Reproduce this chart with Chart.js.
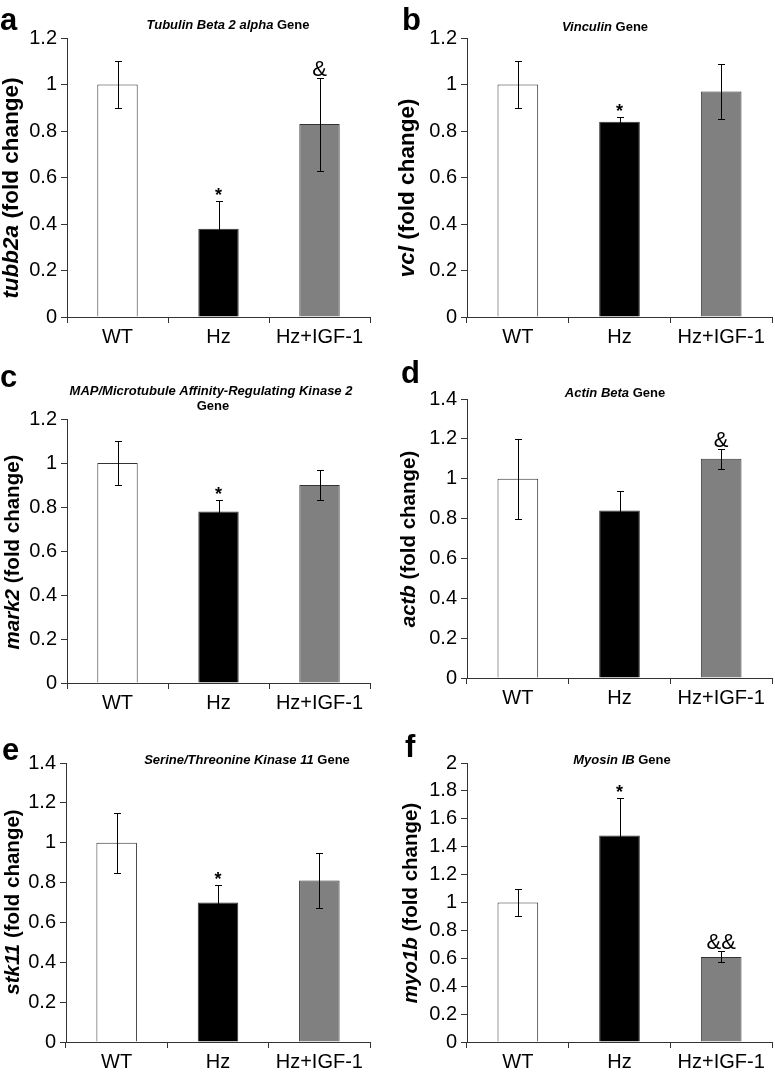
<!DOCTYPE html>
<html><head><meta charset="utf-8">
<script src="https://cdn.jsdelivr.net/npm/chart.js@4.4.0/dist/chart.umd.min.js"></script>
<style>
html,body{margin:0;padding:0;background:#fff}
body{width:775px;height:1074px;position:relative;overflow:hidden}
.panel{position:absolute}
.panel canvas{display:block}
</style></head><body>
<div class="panel" style="left:0px;top:0px;width:385px;height:350px"><canvas id="pa" width="385" height="350" style="width:385px;height:350px"></canvas></div>
<div class="panel" style="left:385px;top:0px;width:390px;height:350px"><canvas id="pb" width="390" height="350" style="width:390px;height:350px"></canvas></div>
<div class="panel" style="left:0px;top:350px;width:385px;height:360px"><canvas id="pc" width="385" height="360" style="width:385px;height:360px"></canvas></div>
<div class="panel" style="left:385px;top:350px;width:390px;height:360px"><canvas id="pd" width="390" height="360" style="width:390px;height:360px"></canvas></div>
<div class="panel" style="left:0px;top:710px;width:385px;height:364px"><canvas id="pe" width="385" height="364" style="width:385px;height:364px"></canvas></div>
<div class="panel" style="left:385px;top:710px;width:390px;height:364px"><canvas id="pf" width="390" height="364" style="width:390px;height:364px"></canvas></div>
<script>
// ---- data ----
const categories = ['WT', 'Hz', 'Hz+IGF-1'];

const tubb2aValues = [1.00, 0.38, 0.83];
const tubb2aErrors = [0.10, 0.12, 0.20];
const tubb2aMarks  = ['', '*', '&'];

const vclValues = [1.00, 0.84, 0.97];
const vclErrors = [0.10, 0.02, 0.12];
const vclMarks  = ['', '*', ''];

const mark2Values = [1.00, 0.78, 0.90];
const mark2Errors = [0.10, 0.05, 0.07];
const mark2Marks  = ['', '*', ''];

const actbValues = [1.00, 0.84, 1.10];
const actbErrors = [0.20, 0.10, 0.05];
const actbMarks  = ['', '', '&'];

const stk11Values = [1.00, 0.70, 0.81];
const stk11Errors = [0.15, 0.09, 0.14];
const stk11Marks  = ['', '*', ''];

const myo1bValues = [1.00, 1.48, 0.61];
const myo1bErrors = [0.10, 0.27, 0.04];
const myo1bMarks  = ['', '*', '&&'];

const yMaxA = 1.2, yMaxB = 1.2, yMaxC = 1.2, yMaxD = 1.4, yMaxE = 1.4, yMaxF = 2.0;
const yStep = 0.2;

// ---- styling / layout ----
const FONT = '"Liberation Sans", Arial, Helvetica, sans-serif';
const barColors = ['#ffffff', '#000000', '#808080'];
const axisColor = '#333333';

function runsWidth(ctx, runs, size) {
  let w = 0;
  runs.forEach(r => { ctx.font = (r.italic ? 'italic ' : '') + 'bold ' + size + 'px ' + FONT; w += ctx.measureText(r.text).width; });
  return w;
}
function drawRuns(ctx, runs, size, cx, y) {
  const w = runsWidth(ctx, runs, size);
  let x = cx - w / 2;
  ctx.textAlign = 'left';
  runs.forEach(r => {
    ctx.font = (r.italic ? 'italic ' : '') + 'bold ' + size + 'px ' + FONT;
    ctx.fillText(r.text, x, y);
    x += ctx.measureText(r.text).width;
  });
}

const decor = {
  id: 'decor',
  afterDatasetsDraw(chart) {
    const o = chart.options.plugins.decor;
    const ctx = chart.ctx;
    const meta = chart.getDatasetMeta(0);
    const ys = chart.scales.y;
    ctx.save();
    ctx.strokeStyle = '#000';
    ctx.lineWidth = 1;
    meta.data.forEach((bar, i) => {
      const v = o.values[i], e = o.errors[i];
      const x = Math.round(bar.x) + 0.5;
      const yt = Math.round(ys.getPixelForValue(v + e)) + 0.5;
      const yb = Math.round(ys.getPixelForValue(v - e)) + 0.5;
      ctx.beginPath();
      ctx.moveTo(x, yt); ctx.lineTo(x, yb);
      ctx.moveTo(x - 3.5, yt); ctx.lineTo(x + 3.5, yt);
      ctx.moveTo(x - 3.5, yb); ctx.lineTo(x + 3.5, yb);
      ctx.stroke();
      const m = o.marks[i];
      if (m) {
        ctx.fillStyle = '#000';
        ctx.textAlign = 'center';
        ctx.textBaseline = 'alphabetic';
        if (m === '*') {
          ctx.font = 'bold 18px ' + FONT;
          ctx.fillText(m, bar.x, yt - 1);
        } else {
          ctx.font = '22px ' + FONT;
          ctx.fillText(m, bar.x, yt - 3);
        }
      }
    });
    ctx.restore();
  },
  afterDraw(chart) {
    const o = chart.options.plugins.decor;
    const ctx = chart.ctx;
    ctx.save();
    ctx.fillStyle = '#000';
    ctx.textBaseline = 'alphabetic';
    o.title.forEach(line => drawRuns(ctx, line.runs, 13, line.x, line.y));
    ctx.translate(o.yTitle.x, o.yTitle.y);
    ctx.rotate(-Math.PI / 2);
    ctx.textBaseline = 'middle';
    drawRuns(ctx, o.yTitle.runs, o.yTitle.size, 0, 0);
    ctx.setTransform(1, 0, 0, 1, 0, 0);
    ctx.textBaseline = 'alphabetic';
    ctx.textAlign = 'left';
    ctx.font = 'bold 31px ' + FONT;
    ctx.fillText(o.letter.text, o.letter.x, o.letter.y);
    ctx.restore();
  }
};

function makeChart(id, p) {
  const cv = document.getElementById(id);
  const W = cv.width, H = cv.height;
  const a = p.area;
  return new Chart(cv, {
    type: 'bar',
    data: {
      labels: categories,
      datasets: [{
        data: p.values,
        backgroundColor: barColors,
        borderColor: axisColor,
        borderWidth: 1,
        borderSkipped: 'bottom',
        categoryPercentage: 1.0,
        barPercentage: 0.4
      }]
    },
    plugins: [decor],
    options: {
      responsive: false,
      animation: false,
      devicePixelRatio: 1,
      layout: { padding: { left: 0, top: a.t, right: W - a.r, bottom: 0 } },
      plugins: {
        legend: { display: false },
        tooltip: { enabled: false },
        decor: { values: p.values, errors: p.errors, marks: p.marks, title: p.title, yTitle: p.yTitle, letter: p.letter }
      },
      scales: {
        x: {
          grid: { display: true, drawOnChartArea: false, drawTicks: true, tickLength: 6, color: axisColor, lineWidth: 1, offset: true },
          border: { display: true, color: axisColor, width: 1 },
          ticks: { color: '#000', font: { family: FONT, size: 20 }, padding: 2, maxRotation: 0, autoSkip: false },
          afterFit: s => { s.height = H - a.b; }
        },
        y: {
          min: 0, max: p.yMax,
          grid: { display: true, drawOnChartArea: false, drawTicks: true, tickLength: 6, color: axisColor, lineWidth: 1 },
          border: { display: true, color: axisColor, width: 1 },
          ticks: {
            stepSize: yStep, color: '#000', font: { family: FONT, size: 20 }, padding: 4,
            callback: v => String(parseFloat(Number(v).toFixed(2)))
          },
          afterFit: s => { s.width = a.l; }
        }
      }
    }
  });
}

makeChart('pa', {
  values: tubb2aValues, errors: tubb2aErrors, marks: tubb2aMarks, yMax: yMaxA,
  area: { l: 67, t: 38, r: 370, b: 317 },
  title: [{ runs: [{ text: 'Tubulin Beta 2 alpha', italic: true }, { text: ' Gene' }], x: 228, y: 29 }],
  yTitle: { runs: [{ text: 'tubb2a', italic: true }, { text: ' (fold change)' }], x: 12, y: 188, size: 22.5 },
  letter: { text: 'a', x: 0, y: 30 }
});
makeChart('pb', {
  values: vclValues, errors: vclErrors, marks: vclMarks, yMax: yMaxB,
  area: { l: 82, t: 38, r: 387, b: 317 },
  title: [{ runs: [{ text: 'Vinculin', italic: true }, { text: ' Gene' }], x: 220, y: 31 }],
  yTitle: { runs: [{ text: 'vcl', italic: true }, { text: ' (fold change)' }], x: 23, y: 188, size: 22.5 },
  letter: { text: 'b', x: 17, y: 30 }
});
makeChart('pc', {
  values: mark2Values, errors: mark2Errors, marks: mark2Marks, yMax: yMaxC,
  area: { l: 67, t: 69, r: 370, b: 333 },
  title: [
    { runs: [{ text: 'MAP/Microtubule Affinity-Regulating Kinase 2', italic: true }], x: 211, y: 45 },
    { runs: [{ text: 'Gene' }], x: 213, y: 60 }
  ],
  yTitle: { runs: [{ text: 'mark2', italic: true }, { text: ' (fold change)' }], x: 13, y: 202, size: 20.5 },
  letter: { text: 'c', x: 0, y: 37 }
});
makeChart('pd', {
  values: actbValues, errors: actbErrors, marks: actbMarks, yMax: yMaxD,
  area: { l: 82, t: 49, r: 387, b: 328 },
  title: [{ runs: [{ text: 'Actin Beta', italic: true }, { text: ' Gene' }], x: 230, y: 47 }],
  yTitle: { runs: [{ text: 'actb', italic: true }, { text: ' (fold change)' }], x: 24, y: 189, size: 20.5 },
  letter: { text: 'd', x: 16, y: 33 }
});
makeChart('pe', {
  values: stk11Values, errors: stk11Errors, marks: stk11Marks, yMax: yMaxE,
  area: { l: 66, t: 53, r: 370, b: 332 },
  title: [{ runs: [{ text: 'Serine/Threonine Kinase 11', italic: true }, { text: ' Gene' }], x: 247, y: 54 }],
  yTitle: { runs: [{ text: 'stk11', italic: true }, { text: ' (fold change)' }], x: 13, y: 192, size: 20.5 },
  letter: { text: 'e', x: 2, y: 50 }
});
makeChart('pf', {
  values: myo1bValues, errors: myo1bErrors, marks: myo1bMarks, yMax: yMaxF,
  area: { l: 82, t: 53, r: 387, b: 332 },
  title: [{ runs: [{ text: 'Myosin IB', italic: true }, { text: ' Gene' }], x: 237, y: 54 }],
  yTitle: { runs: [{ text: 'myo1b', italic: true }, { text: ' (fold change)' }], x: 26, y: 193, size: 20.5 },
  letter: { text: 'f', x: 20, y: 47 }
});
</script>
</body></html>
